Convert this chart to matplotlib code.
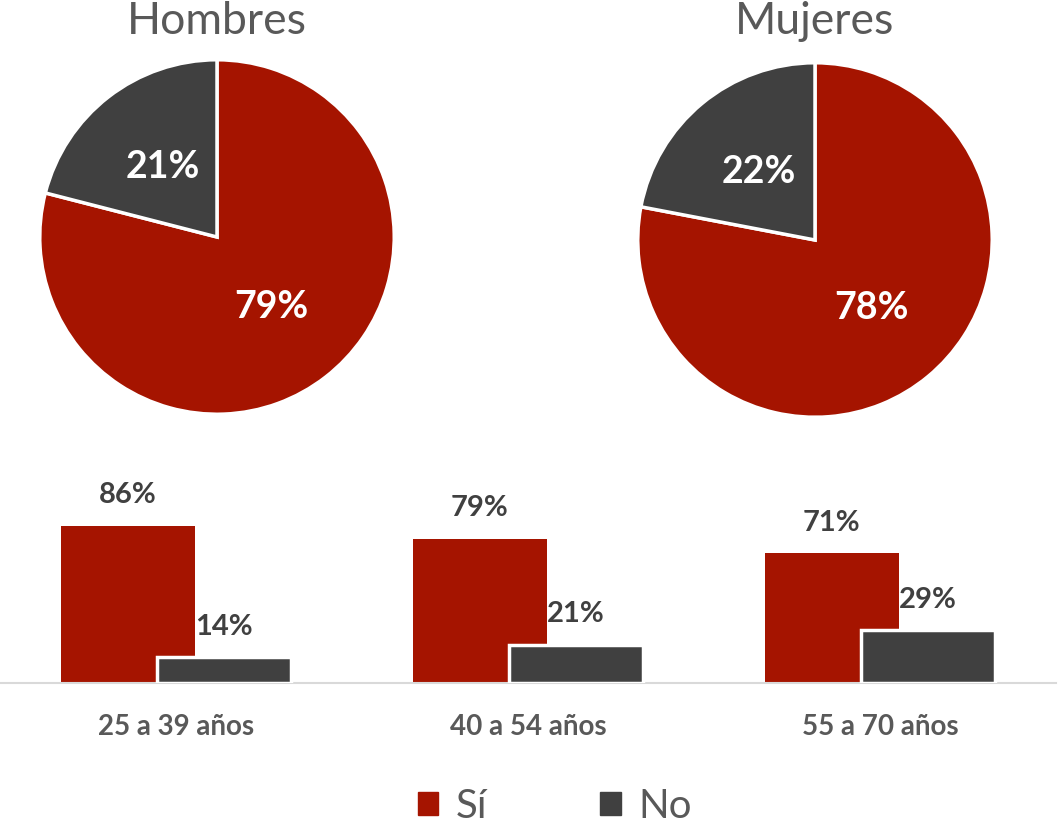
import matplotlib

matplotlib.use("Agg")

import matplotlib.pyplot as plt
import numpy as np
from matplotlib.patches import Patch

RED = "#A51400"
DARK = "#404040"
GRAY = "#595959"

plt.rcParams["font.family"] = ["Lato", "DejaVu Sans"]

# pie data: share answering Sí / No by sex
pie_titles = ["Hombres", "Mujeres"]
pie_si = [79, 78]
pie_no = [21, 22]

# bar data by age group
age_groups = ["25 a 39 años", "40 a 54 años", "55 a 70 años"]
bar_si = [86, 79, 71]
bar_no = [14, 21, 29]

W, H = 1059, 827


def px_axes(fig, left, top, width, height):
    return fig.add_axes([left / W, (H - top - height) / H, width / W, height / H])


fig = plt.figure(figsize=(W / 100, H / 100), dpi=100)

pie_boxes = [(38, 58, 358, 358), (636, 61, 358, 358)]
for (left, top, w, h), title, si, no in zip(pie_boxes, pie_titles, pie_si, pie_no):
    ax = px_axes(fig, left, top, w, h)
    ax.pie(
        [si, no],
        colors=[RED, DARK],
        startangle=90,
        counterclock=False,
        autopct="%1.0f%%",
        pctdistance=0.5,
        wedgeprops=dict(edgecolor="white", linewidth=2.5),
        textprops=dict(color="white", fontsize=27, fontweight="bold"),
    )
    ax.set_xlim(-1.01, 1.01)
    ax.set_ylim(-1.01, 1.01)
    fig.text((left + w / 2) / W, 1 - 22 / H, title, ha="center", va="center",
             fontsize=32, color=GRAY)

# grouped bars, the No bar overlapping the Sí bar
bax = px_axes(fig, 0, 470, 1056, 213)
x = np.arange(len(age_groups))
width = 0.38
offset = 0.137
bars_si = bax.bar(x - offset, bar_si, width, color=RED, zorder=2)
bars_no = bax.bar(x + offset, bar_no, width, color=DARK, edgecolor="white",
                  linewidth=2.5, zorder=3)
for bars in (bars_si, bars_no):
    for rect in bars:
        v = rect.get_height()
        bax.annotate(f"{v:.0f}%", (rect.get_x() + rect.get_width() / 2, v),
                     xytext=(0, 22), textcoords="offset points",
                     ha="center", va="center", fontsize=21, fontweight="bold",
                     color=DARK)

bax.set_xlim(-0.5, len(age_groups) - 0.5)
bax.set_ylim(0, 116.7)
bax.set_xticks(x, age_groups, fontsize=20, fontweight="bold", color=GRAY)
bax.tick_params(axis="x", length=0, pad=22)
bax.set_yticks([])
for side in ("top", "right", "left"):
    bax.spines[side].set_visible(False)
bax.spines["bottom"].set_color("#D9D9D9")
bax.spines["bottom"].set_linewidth(1.5)
bax.set_facecolor("none")

handles = [Patch(color=RED, label="Sí"), Patch(color=DARK, label="No")]
fig.legend(handles=handles, loc="center", bbox_to_anchor=(555 / W, 1 - 806 / H),
           ncol=2, frameon=False, fontsize=29, labelcolor=GRAY,
           handlelength=0.5, handleheight=0.5, handletextpad=0.45,
           columnspacing=2.8)

fig.savefig("out.png", dpi=100)
